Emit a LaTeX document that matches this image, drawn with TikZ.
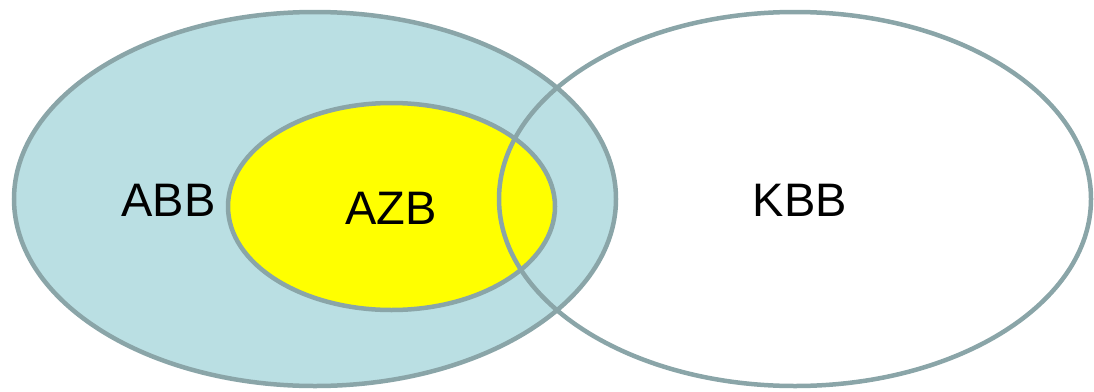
\documentclass[tikz,border=0pt]{standalone}
\usepackage{fontspec}
\setmainfont{Liberation Sans}
\usetikzlibrary{shapes.geometric, positioning}
\definecolor{SetLine}{HTML}{8AA5A8}
\definecolor{SetFill}{HTML}{BADFE3}
\definecolor{SetYellow}{RGB}{255,255,0}
\tikzset{
  Set1/.style = {
    draw = SetLine,
    line width = 4.5pt,
    ellipse,
    inner sep = 0pt,
  },
  Label1/.style = {
    font = \fontsize{47}{56}\selectfont,
    inner sep = 0pt,
  }
}

\begin{document}
\begin{tikzpicture}[x=1pt, y=-1pt]
      \useasboundingbox (0,0) rectangle (1094,391);
      \node[Set1, fill = SetFill, minimum width = 602pt, minimum height = 374pt](abb) at (315,199){};
      \node[Set1, fill = SetYellow, minimum width = 327pt, minimum height = 207pt](azb) at (391.5,206.5){};
      \node[Set1, minimum width = 592pt, minimum height = 374pt](kbb) at (795,199){};
      \draw
        (168.5,200)node[Label1](abbtext){ABB}
        (391,208)node[Label1](azbtext){AZB}
        (800,200)node[Label1](kbbtext){KBB};
    \end{tikzpicture}
\end{document}
